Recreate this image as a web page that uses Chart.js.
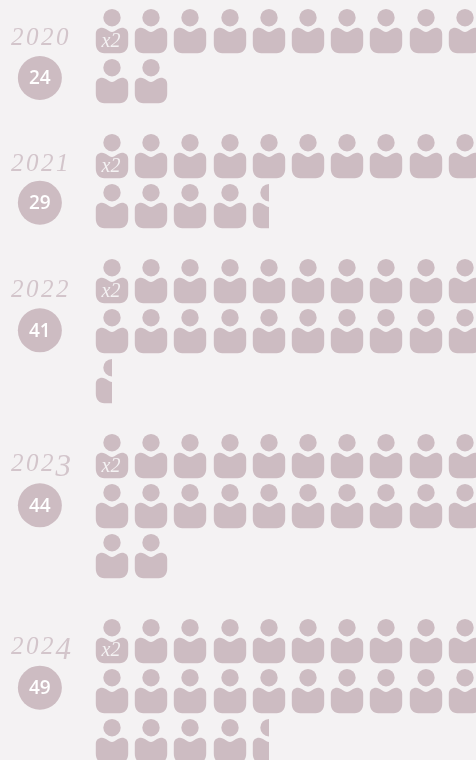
<!DOCTYPE html>
<html>
<head>
<meta charset="utf-8">
<title>Pictogram</title>
<style>
  html, body { margin: 0; padding: 0; background: #f4f2f3; }
  canvas { display: block; }
</style>
<script src="https://cdn.jsdelivr.net/npm/chart.js@4/dist/chart.umd.min.js"></script>
</head>
<body>
<canvas id="chart" width="476" height="760"></canvas>
<script>
'use strict';

// values
var years = ['2020', '2021', '2022', '2023', '2024'];
var counts = [24, 29, 41, 44, 49];
var peoplePerIcon = 2;
var iconsPerRow = 10;
var iconNote = 'x2';

// layout, in rows of icons counted from the top
var yearStartRows = [0, 2.5, 5.006, 8.506, 12.19];
var badgeRows = [0.94, 3.434, 5.986, 9.486, 13.134];
var yearLabelRows = [0.28, 2.8, 5.32, 8.79, 12.45];

var colPx = 39.2;
var rowPx = 50;
var firstIconX = 112;
var firstIconY = 31;
var badgeX = -1.84;  // in columns

var iconColor = '#cdbcc2';
var yearColor = '#d3c5cb';
var bgColor = '#f4f2f3';

// one icon, drawn once on a small canvas and used as the point style
function makeIcon(half) {
  var c = document.createElement('canvas');
  c.width = 34;
  c.height = 46;
  var g = c.getContext('2d');
  if (half) {
    g.beginPath();
    g.rect(0, 0, 17, 46);
    g.clip();
  }
  g.fillStyle = iconColor;
  g.beginPath();
  g.arc(17, 9.7, 8.7, 0, Math.PI * 2);
  g.fill();
  g.beginPath();
  g.moveTo(17, 24);
  g.bezierCurveTo(20.5, 24, 23, 19.8, 27, 19.8);
  g.bezierCurveTo(30.5, 19.8, 33.2, 22, 33.2, 26);
  g.lineTo(33.2, 35.5);
  g.bezierCurveTo(33.2, 41.5, 30, 45.2, 24.5, 45.2);
  g.lineTo(9.5, 45.2);
  g.bezierCurveTo(4, 45.2, 0.8, 41.5, 0.8, 35.5);
  g.lineTo(0.8, 26);
  g.bezierCurveTo(0.8, 22, 3.5, 19.8, 7, 19.8);
  g.bezierCurveTo(11, 19.8, 13.5, 24, 17, 24);
  g.fill();
  return c;
}

var fullIcons = [];
var halfIcons = [];
var badges = [];

for (var i = 0; i < years.length; i++) {
  var whole = Math.floor(counts[i] / peoplePerIcon);
  for (var n = 0; n < whole; n++) {
    fullIcons.push({
      x: n % iconsPerRow,
      y: yearStartRows[i] + Math.floor(n / iconsPerRow)
    });
  }
  if (counts[i] % peoplePerIcon) {
    halfIcons.push({
      x: whole % iconsPerRow,
      y: yearStartRows[i] + Math.floor(whole / iconsPerRow)
    });
  }
  badges.push({ x: badgeX, y: badgeRows[i] });
}

// the years use old style figures: 3 and 4 are taller and hang below the line
function drawYear(g, text, cx, baseline) {
  var step = 15;
  var left = cx - step * text.length / 2;
  for (var k = 0; k < text.length; k++) {
    var hangs = text[k] === '3' || text[k] === '4';
    g.font = hangs ? 'italic 31px "Liberation Serif"' : 'italic 25px "Liberation Serif"';
    g.fillText(text[k], left + step * (k + 0.5) + (hangs ? 1 : 0), baseline + (hangs ? 5 : 0));
  }
}

// years, badge numbers and the x2 note
var labelPlugin = {
  id: 'labels',
  beforeDatasetsDraw: function(chart) {
    // keeps the baked icons on whole pixels, no blur
    chart.ctx.imageSmoothingEnabled = false;
  },
  afterDatasetsDraw: function(chart) {
    var g = chart.ctx;
    var sx = chart.scales.x;
    var sy = chart.scales.y;
    g.save();
    g.textAlign = 'center';
    for (var i = 0; i < years.length; i++) {
      g.textBaseline = 'alphabetic';
      g.fillStyle = yearColor;
      drawYear(g, years[i], sx.getPixelForValue(badgeX), sy.getPixelForValue(yearLabelRows[i]));

      g.font = '600 19px "Open Sans"';
      g.fillStyle = '#ffffff';
      g.textBaseline = 'middle';
      g.fillText(String(counts[i]), sx.getPixelForValue(badgeX), sy.getPixelForValue(badgeRows[i]) + 1);

      g.textBaseline = 'alphabetic';
      g.font = 'italic 20px "Liberation Serif"';
      g.fillStyle = bgColor;
      g.fillText(iconNote, sx.getPixelForValue(0) - 1, sy.getPixelForValue(yearStartRows[i]) + 15.5);
    }
    g.restore();
  }
};

var chart = new Chart(document.getElementById('chart').getContext('2d'), {
  type: 'scatter',
  data: {
    datasets: [
      { label: 'badges', data: badges, pointStyle: 'circle', pointRadius: 22, pointBackgroundColor: iconColor, pointBorderWidth: 0 },
      { label: 'icons', data: fullIcons, pointStyle: makeIcon(false), clip: false },
      { label: 'half icons', data: halfIcons, pointStyle: makeIcon(true), clip: false }
    ]
  },
  options: {
    responsive: false,
    animation: false,
    layout: { padding: 0, autoPadding: false },
    plugins: { legend: { display: false }, tooltip: { enabled: false } },
    scales: {
      x: { type: 'linear', display: false, min: -firstIconX / colPx, max: (476 - firstIconX) / colPx },
      y: { type: 'linear', display: false, reverse: true, min: -firstIconY / rowPx, max: (760 - firstIconY) / rowPx }
    }
  },
  plugins: [labelPlugin]
});
</script>
</body>
</html>
